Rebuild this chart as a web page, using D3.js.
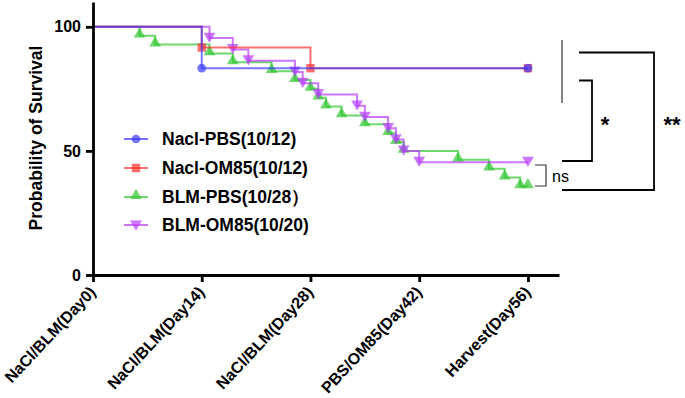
<!DOCTYPE html>
<html>
<head>
<meta charset="utf-8">
<script src="https://cdn.jsdelivr.net/npm/d3@7"></script>
<style>
  html, body { margin: 0; padding: 0; background: #fff; }
  svg { display: block; }
  text { font-family: "Liberation Sans", Arial, sans-serif; }
</style>
</head>
<body>
<svg id="chart" width="685" height="398"></svg>
<script>
// ---- data ----
const xTickDays = [0, 14, 28, 42, 56];
const xTickLabels = ["NaCl/BLM(Day0)", "NaCl/BLM(Day14)", "NaCl/BLM(Day28)", "PBS/OM85(Day42)", "Harvest(Day56)"];
const yTickValues = [0, 50, 100];
const seriesNames = ["Nacl-PBS(10/12)", "Nacl-OM85(10/12)", "BLM-PBS(10/28）", "BLM-OM85(10/20)"];

const naclPbsDays = [0, 14, 56];
const naclPbsSurv = [100, 83.33, 83.33];

const naclOm85Days = [0, 14, 28, 56];
const naclOm85Surv = [100, 91.67, 83.33, 83.33];

const blmPbsDays = [0, 6, 8, 15, 18, 23, 26, 28, 29, 30, 32, 35, 38, 39, 40, 47, 51, 53, 55, 56];
const blmPbsSurv = [100, 96.43, 92.86, 89.29, 85.71, 82.14, 78.57, 75.00, 71.43, 67.86, 64.29, 60.71, 57.14, 53.57, 50.00, 46.43, 42.86, 39.29, 35.71, 35.71];

const blmOm85Days = [0, 15, 18, 20, 26, 27, 29, 34, 35, 38, 39, 40, 42, 56];
const blmOm85Surv = [100, 95.45, 90.91, 86.36, 81.82, 77.27, 72.73, 68.18, 63.64, 59.09, 54.55, 50.00, 45.45, 45.45];

const sigLabels = ["**", "*", "ns"];

// ---- setup ----
const svg = d3.select("#chart");
const x = d3.scaleLinear().domain([0, 60]).range([93, 559]);
const y = d3.scaleLinear().domain([0, 110]).range([275, 2]);

const series = [
  { name: seriesNames[0], days: naclPbsDays, surv: naclPbsSurv, color: "#3a3aff", sym: d3.symbolCircle, size: 60 },
  { name: seriesNames[1], days: naclOm85Days, surv: naclOm85Surv, color: "#ff3030", sym: d3.symbolSquare, size: 70 },
  { name: seriesNames[2], days: blmPbsDays, surv: blmPbsSurv, color: "#30c830", sym: d3.symbolTriangle, size: 60, rot: 0 },
  { name: seriesNames[3], days: blmOm85Days, surv: blmOm85Surv, color: "#b63cff", sym: d3.symbolTriangle, size: 60, rot: 180 }
];
const alpha = 0.7;

// draw order: green, violet, red, blue
const drawOrder = [2, 3, 1, 0];
const line = d3.line().x(d => x(d[0])).y(d => y(d[1])).curve(d3.curveStepAfter);

drawOrder.forEach(i => {
  const s = series[i];
  const pts = s.days.map((d, k) => [d, s.surv[k]]);
  svg.append("path")
    .attr("d", line(pts))
    .attr("fill", "none")
    .attr("stroke", s.color)
    .attr("stroke-opacity", alpha)
    .attr("stroke-width", 2);
  const sym = d3.symbol().type(s.sym).size(s.size);
  svg.selectAll(null).data(pts.slice(1)).enter().append("path")
    .attr("d", sym())
    .attr("transform", d => {
      let yy = y(d[1]);
      if (s.sym === d3.symbolTriangle) yy += (s.rot ? -2 : -1.5);
      return `translate(${x(d[0])},${yy}) rotate(${s.rot || 0})`;
    })
    .attr("fill", s.color)
    .attr("fill-opacity", alpha);
});

// ---- axes ----
const yAxis = svg.append("g")
  .attr("transform", `translate(${x(0)},0)`)
  .call(d3.axisLeft(y).tickValues(yTickValues).tickSize(7).tickSizeOuter(0).tickPadding(5));
yAxis.select(".domain").attr("stroke-width", 2.8);
yAxis.selectAll(".tick line").attr("stroke-width", 2.8);
yAxis.selectAll(".tick text").attr("font-size", 16).attr("font-weight", "bold")
  .attr("font-family", "'Liberation Sans', Arial, sans-serif").attr("fill", "#000");

const xAxis = svg.append("g")
  .attr("transform", `translate(0,${y(0)})`)
  .call(d3.axisBottom(x).tickValues(xTickDays).tickFormat((d, i) => xTickLabels[i]).tickSize(7).tickSizeOuter(0));
xAxis.select(".domain").attr("stroke-width", 2.8);
xAxis.selectAll(".tick line").attr("stroke-width", 2.8);
xAxis.selectAll(".tick text")
  .attr("font-size", 16).attr("font-weight", "bold")
  .attr("font-family", "'Liberation Sans', Arial, sans-serif").attr("fill", "#000")
  .attr("text-anchor", "end")
  .attr("x", 0).attr("y", 0).attr("dy", "0.35em")
  .attr("transform", "translate(-1,14) rotate(-47)");

// y-axis title
svg.append("text")
  .attr("transform", "translate(42,138) rotate(-90)")
  .attr("text-anchor", "middle")
  .attr("font-size", 17.5).attr("font-weight", "bold")
  .text("Probability of Survival");

// ---- legend ----
const legY = [139, 168, 197, 225];
series.forEach((s, i) => {
  const g = svg.append("g").attr("transform", `translate(0,${legY[i]})`);
  g.append("line").attr("x1", 124).attr("x2", 148).attr("y1", 0).attr("y2", 0)
    .attr("stroke", s.color).attr("stroke-opacity", alpha).attr("stroke-width", 2);
  const sym = d3.symbol().type(s.sym).size(s.size);
  g.append("path").attr("d", sym())
    .attr("transform", `translate(136,${s.sym === d3.symbolTriangle ? (s.rot ? -1 : -1.5) : 0}) rotate(${s.rot || 0})`)
    .attr("fill", s.color).attr("fill-opacity", alpha);
  g.append("text").attr("x", 162).attr("y", 0).attr("dy", "0.36em")
    .attr("font-size", 17.5).attr("font-weight", "bold").text(s.name);
});

// ---- significance brackets ----
svg.append("line").attr("x1", 562).attr("x2", 562).attr("y1", 40).attr("y2", 103)
  .attr("stroke", "#333").attr("stroke-width", 1.2);
// ** bracket
svg.append("path").attr("d", "M579,52.5 H654 V190 H562")
  .attr("fill", "none").attr("stroke", "#000").attr("stroke-width", 1.8);
// * bracket
svg.append("path").attr("d", "M579,80.5 H592 V161 H562")
  .attr("fill", "none").attr("stroke", "#000").attr("stroke-width", 1.8);
// ns bracket
svg.append("path").attr("d", "M535,165 H546 V186 H535")
  .attr("fill", "none").attr("stroke", "#333").attr("stroke-width", 1.2);

svg.append("text").attr("x", 672).attr("y", 132).attr("text-anchor", "middle")
  .attr("font-size", 22).attr("font-weight", "bold").text(sigLabels[0]);
svg.append("text").attr("x", 605).attr("y", 132).attr("text-anchor", "middle")
  .attr("font-size", 22).attr("font-weight", "bold").text(sigLabels[1]);
svg.append("text").attr("x", 552).attr("y", 182)
  .attr("font-size", 16).text(sigLabels[2]);
</script>
</body>
</html>
